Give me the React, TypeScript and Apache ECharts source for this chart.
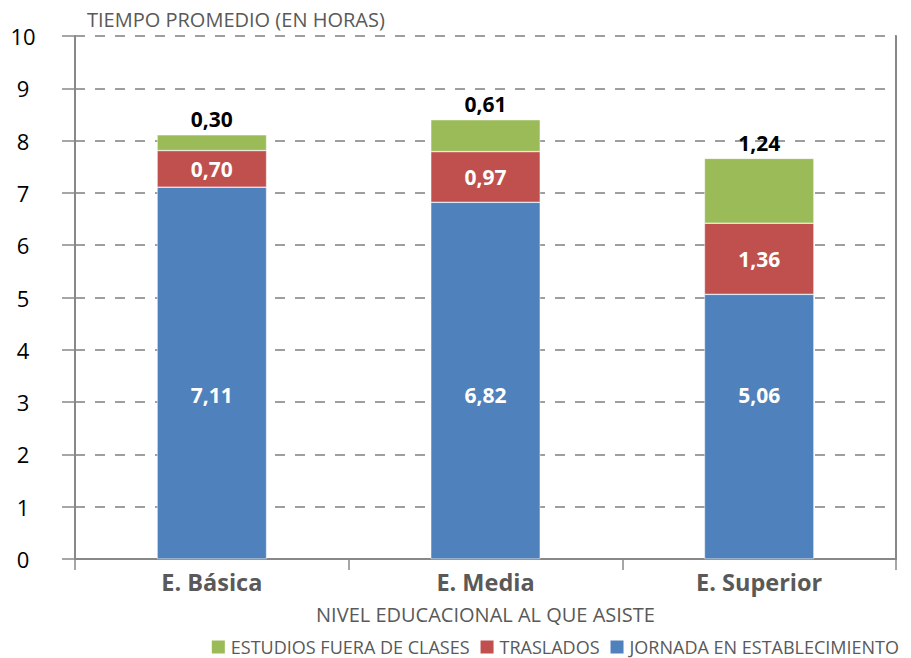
import React, { useEffect, useRef } from "react";
import * as echarts from "echarts";

const categories = ["E. Básica", "E. Media", "E. Superior"];
const jornada = [7.11, 6.82, 5.06];
const traslados = [0.7, 0.97, 1.36];
const estudios = [0.3, 0.61, 1.24];
const seriesNames = ["JORNADA EN ESTABLECIMIENTO", "TRASLADOS", "ESTUDIOS FUERA DE CLASES"];
const legendOrder = ["ESTUDIOS FUERA DE CLASES", "TRASLADOS", "JORNADA EN ESTABLECIMIENTO"];

const fmt = (p: any) => Number(p.value).toFixed(2).replace(".", ",");

export default function App() {
  const ref = useRef<HTMLDivElement>(null);
  useEffect(() => {
    if (!ref.current) return;
    const chart = echarts.init(ref.current, null, { renderer: "svg" });
    const font = "'Open Sans', sans-serif";
    const insideLabel = {
      show: true,
      position: "inside",
      color: "#ffffff",
      fontWeight: "bold",
      fontSize: 21,
      fontFamily: font,
      formatter: fmt,
    };
    chart.setOption({
      animation: false,
      textStyle: { fontFamily: font },
      grid: { left: 75, right: 15, top: 36, bottom: 99, containLabel: false },
      legend: {
        data: legendOrder,
        right: 12,
        top: 638,
        padding: 0,
        itemWidth: 15,
        itemHeight: 15,
        itemGap: 9,
        icon: "rect",
        textStyle: { color: "#595959", fontSize: 18, fontFamily: font },
      },
      xAxis: {
        type: "category",
        data: categories,
        name: "NIVEL EDUCACIONAL AL QUE ASISTE",
        nameLocation: "middle",
        nameGap: 45,
        nameTextStyle: { color: "#595959", fontSize: 20, fontFamily: font },
        axisLine: { show: true, lineStyle: { color: "#888888", width: 2 } },
        axisTick: { show: true, length: 11, lineStyle: { color: "#888888", width: 1.5 } },
        axisLabel: {
          color: "#595959",
          fontWeight: "bold",
          fontSize: 23.5,
          fontFamily: font,
          margin: 11,
        },
      },
      yAxis: [
        {
          type: "value",
          min: 0,
          max: 10,
          interval: 1,
          name: "TIEMPO PROMEDIO (EN HORAS)",
          nameLocation: "end",
          nameGap: 7,
          nameTextStyle: {
            color: "#595959",
            fontSize: 20,
            fontFamily: font,
            align: "left",
            padding: [0, 0, 0, 12],
          },
          axisLine: { show: true, lineStyle: { color: "#888888", width: 2 } },
          axisTick: { show: true, inside: false, length: 13, lineStyle: { color: "#888888", width: 1.5 } },
          axisLabel: { color: "#000000", fontSize: 22, fontFamily: font, margin: 52, align: "center" },
          splitLine: { show: true, lineStyle: { color: "#7f7f7f", type: [10, 10], width: 1.5 } },
        },
        {
          type: "value",
          min: 0,
          max: 10,
          interval: 1,
          position: "right",
          axisLine: { show: true, lineStyle: { color: "#888888", width: 2 } },
          axisTick: { show: false },
          axisLabel: { show: false },
          splitLine: { show: false },
        },
      ],
      series: [
        {
          name: seriesNames[0],
          type: "bar",
          stack: "total",
          data: jornada,
          barWidth: "40%",
          itemStyle: { color: "#4f81bd", borderColor: "#ffffff", borderWidth: 0.5 },
          label: { ...insideLabel, position: "insideBottom", distance: 154 },
        },
        {
          name: seriesNames[1],
          type: "bar",
          stack: "total",
          data: traslados,
          itemStyle: { color: "#c0504d", borderColor: "#ffffff", borderWidth: 0.5 },
          label: insideLabel,
        },
        {
          name: seriesNames[2],
          type: "bar",
          stack: "total",
          data: estudios,
          itemStyle: { color: "#9bbb59", borderColor: "#ffffff", borderWidth: 0.5 },
          label: {
            show: true,
            position: "top",
            distance: 5,
            color: "#000000",
            fontWeight: "bold",
            fontSize: 21,
            fontFamily: font,
            formatter: fmt,
          },
        },
      ],
    });
    return () => chart.dispose();
  }, []);
  return <div ref={ref} style={{ width: 911, height: 658, position: "absolute", left: 0, top: 0 }} />;
}
